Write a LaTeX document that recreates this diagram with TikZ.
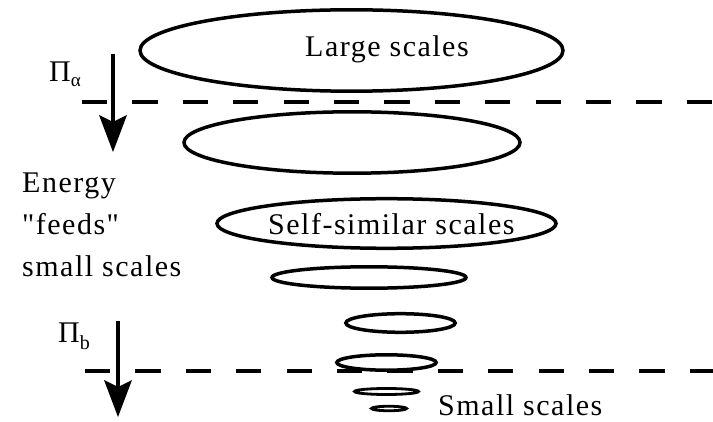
\documentclass[tikz,border=0pt]{standalone}
\usepackage{fontspec}
\newfontfamily\diagserif{Liberation Serif}
\usetikzlibrary{arrows.meta,shapes.geometric}
\begin{document}
\begin{tikzpicture}[x=1pt,y=-1pt,
  eddy/.style={draw, ellipse, line width=3.5pt, inner sep=0pt, outer sep=0pt},
  tiny/.style={line width=2.8pt},
  lbl/.style={font=\diagserif\fontsize{30}{36}\selectfont\addfontfeature{LetterSpace=5}, inner sep=0pt, anchor=base west},
  pilbl/.style={font=\diagserif\fontsize{30}{36}\selectfont, inner sep=0pt, anchor=base west},
  sep/.style={line width=4pt, dash pattern=on 25.2pt off 25.2pt},
  flux/.style={line width=4pt, -{Stealth[length=37pt,width=28pt,inset=7pt,line width=0pt]}}]
\useasboundingbox (0,0) rectangle (713,422);
\fill[white] (0,0) rectangle (713,422);

% eddies
\node[eddy, minimum width=423pt, minimum height=81.4pt] (e1) at (351.5,50.5) {};
\node[eddy, minimum width=336pt, minimum height=61.4pt] (e2) at (352,142.5) {};
\node[eddy, minimum width=339pt, minimum height=49.6pt] (e3) at (386.5,223.5) {};
\node[eddy, minimum width=194pt, minimum height=21.4pt] (e4) at (369,277.5) {};
\node[eddy, minimum width=109.4pt, minimum height=18.6pt] (e5) at (400.5,323) {};
\node[eddy, minimum width=99.4pt, minimum height=15.4pt] (e6) at (386.5,362.5) {};
\node[eddy, tiny, minimum width=64pt, minimum height=6pt] (e7) at (386.5,391.5) {};
\node[eddy, tiny, minimum width=35pt, minimum height=4.5pt] (e8) at (389,408.5) {};

% texts
\node[lbl] (tlarge) at (305,57) {Large scales};
\node[lbl] (tself) at (268,235) {Self-similar scales};
\node[lbl] (tsmall) at (438,415) {Small scales};
\node[lbl] (ten1) at (22,193) {Energy};
\node[lbl] (ten2) at (22,235) {"feeds"};
\node[lbl] (ten3) at (22,277) {small scales};

\node[pilbl] (pia) at (49,82) {Π\raisebox{-5pt}{\fontsize{19}{20}\selectfont α}};
\node[pilbl] (pib) at (58,343) {Π\raisebox{-7pt}{\fontsize{20}{20}\selectfont b}};

% separators
\coordinate (d1s) at (82,102);
\coordinate (d1e) at (713,102);
\coordinate (d2s) at (85,371);
\coordinate (d2e) at (713,371);
\draw[sep] (d1s) -- (d1e);
\draw[sep] (d2s) -- (d2e);

% energy flux arrows
\coordinate (a1s) at (113,54);
\coordinate (a1e) at (113,152);
\coordinate (a2s) at (118,321);
\coordinate (a2e) at (118,417);
\draw[flux] (a1s) -- (a1e);
\draw[flux] (a2s) -- (a2e);
\end{tikzpicture}
\end{document}
